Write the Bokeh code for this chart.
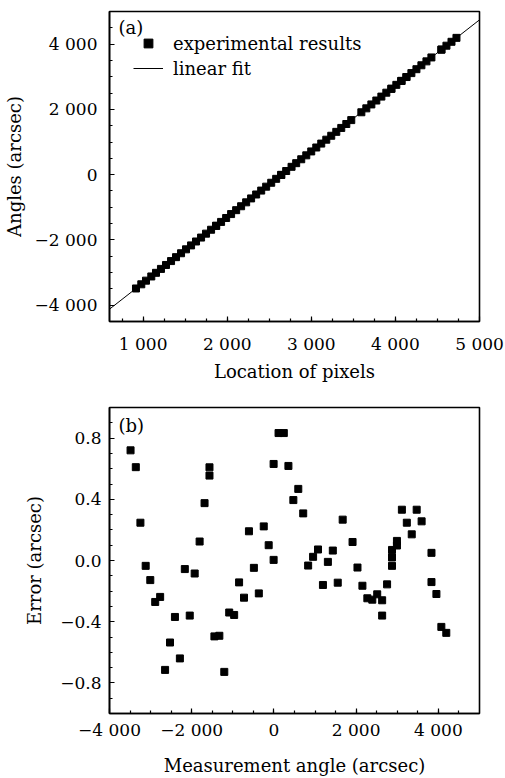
from bokeh.plotting import figure
from bokeh.layouts import column
from bokeh.models import FixedTicker, Label, Legend, LegendItem
from bokeh.embed import file_html
from bokeh.resources import INLINE

# ---------------- data ----------------
# panel (b): measurement angle (arcsec) and error (arcsec)
meas_angle = [-3488, -3360, -3248, -3120, -3008, -2888, -2768, -2648, -2528, -2408,
              -2288, -2168, -2048, -1928, -1808, -1688, -1568, -1568, -1448, -1328,
              -1208, -1088, -968, -848, -728, -608, -488, -368, -248, -128,
              -8, -8, 112, 240, 352, 472, 592, 712, 832, 952,
              1072, 1192, 1312, 1432, 1552, 1672, 1912, 2032, 2152, 2272,
              2392, 2512, 2632, 2632, 2752, 2872, 2872, 2872, 2992, 2992,
              3112, 3232, 3352, 3472, 3592, 3832, 3832, 3952, 4072, 4192]
error = [0.72, 0.61, 0.247, -0.035, -0.128, -0.271, -0.238, -0.715, -0.536, -0.369,
         -0.640, -0.056, -0.360, -0.085, 0.124, 0.375, 0.609, 0.555, -0.496, -0.492,
         -0.728, -0.340, -0.356, -0.143, -0.243, 0.191, -0.048, -0.215, 0.223, 0.100,
         0.004, 0.631, 0.833, 0.833, 0.618, 0.395, 0.468, 0.308, -0.033, 0.024,
         0.072, -0.160, -0.009, 0.065, -0.145, 0.267, 0.121, -0.046, -0.165, -0.247,
         -0.256, -0.221, -0.260, -0.360, -0.156, -0.035, 0.020, 0.069, 0.098, 0.128,
         0.332, 0.247, 0.171, 0.332, 0.256, 0.050, -0.141, -0.219, -0.434, -0.473]

# panel (a): pixel location of each measurement
pixel_loc = [915, 978, 1034, 1097, 1153, 1212, 1272, 1332, 1391, 1451,
             1510, 1570, 1629, 1689, 1748, 1808, 1868, 1868, 1927, 1987,
             2046, 2106, 2165, 2225, 2284, 2344, 2404, 2463, 2523, 2582,
             2642, 2642, 2701, 2765, 2820, 2880, 2940, 2999, 3059, 3118,
             3178, 3237, 3297, 3356, 3416, 3475, 3595, 3654, 3714, 3773,
             3833, 3892, 3952, 3952, 4011, 4071, 4071, 4071, 4131, 4131,
             4190, 4250, 4309, 4369, 4428, 4547, 4547, 4607, 4667, 4726]
angles = meas_angle

# linear fit: angle = slope * pixel + intercept
fit_slope = 2.015
fit_intercept = -5331.0
fit_x = [600, 5000]
fit_y = [fit_slope * v + fit_intercept for v in fit_x]

a_xticks = [1000, 2000, 3000, 4000, 5000]
a_xlabels = ["1 000", "2 000", "3 000", "4 000", "5 000"]
a_yticks = [-4000, -2000, 0, 2000, 4000]
a_ylabels = ["\u22124 000", "\u22122 000", "0", "2 000", "4 000"]
b_xticks = [-4000, -2000, 0, 2000, 4000]
b_xlabels = ["\u22124 000", "\u22122 000", "0", "2 000", "4 000"]
b_yticks = [-0.8, -0.4, 0.0, 0.4, 0.8]
b_ylabels = ["\u22120.8", "\u22120.4", "0.0", "0.4", "0.8"]

FONT = "DejaVu Serif"
TICK_FS = "17px"
TITLE_FS = "18px"


def style(p):
    p.outline_line_color = "black"
    p.outline_line_width = 1.6
    p.grid.visible = False
    p.background_fill_color = "white"
    p.border_fill_color = "white"
    for ax in p.xaxis + p.yaxis:
        ax.axis_line_color = "black"
        ax.axis_line_width = 1.6
        ax.major_tick_in = 5
        ax.major_tick_out = 0
        ax.minor_tick_in = 3
        ax.minor_tick_out = 0
        ax.major_tick_line_color = "black"
        ax.minor_tick_line_color = "black"
        ax.major_tick_line_width = 1.2
        ax.minor_tick_line_width = 1.2
        ax.major_label_text_font = FONT
        ax.major_label_text_font_size = TICK_FS
        ax.major_label_text_color = "black"
        ax.axis_label_text_font = FONT
        ax.axis_label_text_font_size = TITLE_FS
        ax.axis_label_text_font_style = "normal"
        ax.axis_label_text_color = "black"


# ---------------- panel (a) ----------------
pa = figure(width=505, height=384, output_backend="svg", toolbar_location=None,
            x_range=(600, 5000), y_range=(-4500, 5000),
            min_border_left=105, min_border_right=24, min_border_top=11, min_border_bottom=63)
line_r = pa.line(fit_x, fit_y, line_color="black", line_width=1)
sq_r = pa.scatter(pixel_loc, angles, marker="square", size=7, fill_color="black", line_color="black")
pa.xaxis.axis_label = "Location of pixels"
pa.yaxis.axis_label = "Angles (arcsec)"
pa.xaxis.ticker = FixedTicker(ticks=a_xticks, minor_ticks=list(range(750, 5000, 250)))
pa.yaxis.ticker = FixedTicker(ticks=a_yticks, minor_ticks=list(range(-4500, 5000, 500)))
pa.xaxis.major_label_overrides = dict(zip(a_xticks, a_xlabels))
pa.yaxis.major_label_overrides = dict(zip(a_yticks, a_ylabels))
style(pa)
pa.xaxis.major_label_standoff = 12
pa.xaxis.axis_label_standoff = 4
pa.yaxis.major_label_standoff = 12
pa.yaxis.axis_label_standoff = 7
leg = Legend(items=[LegendItem(label="experimental results", renderers=[sq_r]),
                    LegendItem(label="linear fit", renderers=[line_r])],
             location=(24, 242), padding=0, margin=0, spacing=3,
             label_height=22, glyph_height=22, glyph_width=30, label_standoff=10,
             border_line_color=None, background_fill_alpha=0,
             label_text_font=FONT, label_text_font_size=TITLE_FS, label_text_color="black")
pa.add_layout(leg, "center")
pa.add_layout(Label(x=9, y=294, x_units="screen", y_units="screen", text="(a)",
                    text_font=FONT, text_font_size=TITLE_FS, text_baseline="middle",
                    text_color="black"))

# ---------------- panel (b) ----------------
pb = figure(width=505, height=394, output_backend="svg", toolbar_location=None,
            x_range=(-4000, 5000), y_range=(-1.0, 1.0),
            min_border_left=103, min_border_right=26, min_border_top=23, min_border_bottom=65)
pb.scatter(meas_angle, error, marker="square", size=7, fill_color="black", line_color="black")
pb.xaxis.axis_label = "Measurement angle (arcsec)"
pb.yaxis.axis_label = "Error (arcsec)"
pb.xaxis.ticker = FixedTicker(ticks=b_xticks, minor_ticks=list(range(-3500, 5000, 500)))
pb.yaxis.ticker = FixedTicker(ticks=b_yticks, minor_ticks=[round(-0.9 + 0.1 * i, 1) for i in range(19)])
pb.xaxis.major_label_overrides = dict(zip(b_xticks, b_xlabels))
pb.yaxis.major_label_overrides = dict(zip(b_yticks, b_ylabels))
style(pb)
pb.xaxis.major_label_standoff = 6
pb.xaxis.axis_label_standoff = 12
pb.yaxis.major_label_standoff = 8
pb.yaxis.axis_label_standoff = 12
pb.add_layout(Label(x=9, y=288, x_units="screen", y_units="screen", text="(b)",
                    text_font=FONT, text_font_size=TITLE_FS, text_baseline="middle",
                    text_color="black"))

layout = column(pa, pb, spacing=0)
open("out.html", "w").write(file_html(layout, INLINE))
